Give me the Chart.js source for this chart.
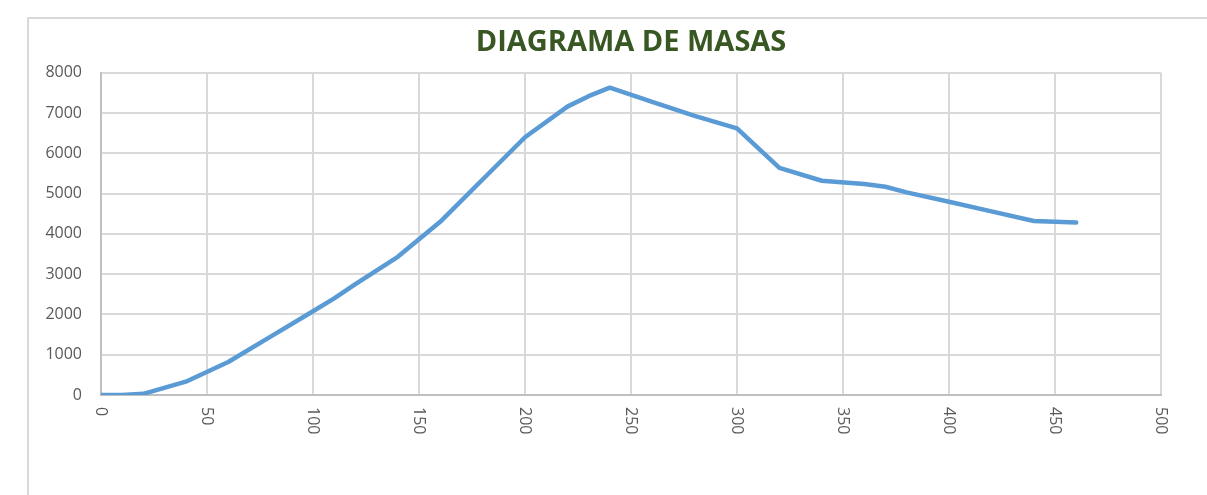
<!DOCTYPE html>
<html>
<head>
<meta charset="utf-8">
<script src="https://cdn.jsdelivr.net/npm/chart.js@4.4.1/dist/chart.umd.min.js"></script>
<style>
  html, body { margin: 0; padding: 0; background: #fff; overflow: hidden; }
  #frame { position: absolute; left: 27px; top: 17px; width: 1300px; height: 600px; border: 2px solid #d9d9d9; box-sizing: border-box; }
  #wrap { position: absolute; left: 0; top: 0; width: 1207px; height: 495px; }
</style>
</head>
<body>
<div id="frame"></div>
<div id="wrap"><canvas id="chart"></canvas></div>
<script>
// distancia (eje X) y masa acumulada (eje Y)
const distances = [0, 10, 20, 40, 60, 80, 100, 110, 120, 140, 160, 180, 200, 220, 230, 240, 260, 280, 300, 320, 340, 360, 370, 380, 400, 420, 440, 460];
const masses = [0, 0, 30, 330, 820, 1450, 2080, 2400, 2750, 3430, 4300, 5350, 6400, 7160, 7420, 7630, 7280, 6930, 6620, 5640, 5320, 5240, 5170, 5030, 4800, 4560, 4320, 4280];

const xTicks = { min: 0, max: 500, step: 50 };
const yTicks = { min: 0, max: 8000, step: 1000 };

const tickColor = "#595959";
const tickFont = { family: "'Open Sans', sans-serif", size: 16 };

const points = distances.map((d, i) => ({ x: d, y: masses[i] }));

// etiquetas del eje X giradas 90 grados en sentido horario
const verticalXLabels = {
    id: "verticalXLabels",
    afterDraw(chart) {
        const scale = chart.scales.x;
        const ctx = chart.ctx;
        ctx.save();
        ctx.fillStyle = tickColor;
        ctx.font = `${tickFont.size}px ${tickFont.family}`;
        ctx.textAlign = "left";
        ctx.textBaseline = "middle";
        scale.ticks.forEach((tick) => {
            const x = scale.getPixelForValue(tick.value);
            ctx.save();
            ctx.translate(x, chart.chartArea.bottom + 12);
            ctx.rotate(Math.PI / 2);
            ctx.fillText(String(tick.value), 0, 0);
            ctx.restore();
        });
        ctx.restore();
    },
};

const ctx = document.getElementById("chart").getContext("2d");
const chart = new Chart(ctx, {
    type: "line",
    data: {
        datasets: [
            {
                label: "Masas",
                data: points,
                borderColor: "#5B9BD5",
                backgroundColor: "#5B9BD5",
                borderWidth: 4.5,
                pointRadius: 0,
                tension: 0,
                borderJoinStyle: "round",
                borderCapStyle: "round",
            },
        ],
    },
    options: {
        responsive: true,
        maintainAspectRatio: false,
        animation: false,
        layout: {
            padding: { top: 25, right: 46, bottom: 0, left: 0 },
        },
        plugins: {
            legend: { display: false },
            tooltip: { enabled: false },
            title: {
                display: true,
                fullSize: false,
                text: "DIAGRAMA DE MASAS",
                color: "#385723",
                font: { family: "'Open Sans', sans-serif", size: 29, weight: "bold" },
                padding: { top: 0, bottom: 13 },
            },
        },
        scales: {
            x: {
                type: "linear",
                min: xTicks.min,
                max: xTicks.max,
                ticks: { stepSize: xTicks.step, display: false },
                grid: { color: "#d9d9d9", lineWidth: 2, drawTicks: false },
                border: { color: "#bfbfbf", width: 2 },
                afterFit: (scale) => { scale.height = 100; },
            },
            y: {
                min: yTicks.min,
                max: yTicks.max,
                ticks: {
                    stepSize: yTicks.step,
                    color: tickColor,
                    font: tickFont,
                    padding: 19,
                    callback: (value) => String(value),
                },
                grid: { color: "#d9d9d9", lineWidth: 2, drawTicks: false },
                border: { color: "#bfbfbf", width: 2 },
                afterFit: (scale) => { scale.width = 101; },
            },
        },
    },
    plugins: [verticalXLabels],
});
</script>
</body>
</html>
